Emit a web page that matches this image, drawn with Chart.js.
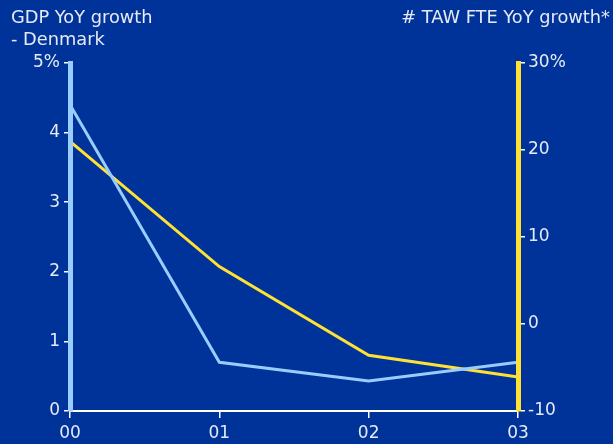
<!DOCTYPE html>
<html>
<head>
<meta charset="utf-8">
<script src="https://cdn.jsdelivr.net/npm/chart.js@4.4.1/dist/chart.umd.min.js"></script>
<style>
  html, body { margin: 0; padding: 0; background: #003399; }
  #wrap { width: 613px; height: 444px; position: relative; }
</style>
</head>
<body>
<div id="wrap"><canvas id="c"></canvas></div>
<script>
// data
const years = ["00", "01", "02", "03"];
const gdpGrowth = [4.4, 0.7, 0.43, 0.7];       // left axis, %
const tawGrowth = [21.0, 6.6, -3.6, -6.1];     // right axis, %
const leftTicks = [0, 1, 2, 3, 4, 5];
const rightTicks = [-10, 0, 10, 20, 30];

const COLORS = {
  bg: "#003399",
  gdp: "#99ccff",
  taw: "#ffe135",
  text: "#e6eaf4",
  axis: "#ffffff",
};

const FONT = { family: "'DejaVu Sans', sans-serif", size: 17 };

const titles = {
  id: "titles",
  afterDraw(chart) {
    const ctx = chart.ctx;
    ctx.save();
    ctx.fillStyle = COLORS.text;
    ctx.font = "17.8px 'DejaVu Sans', sans-serif";
    ctx.textBaseline = "alphabetic";
    ctx.textAlign = "left";
    ctx.fillText("GDP YoY growth", 11, 23);
    ctx.fillText("- Denmark", 11, 45);
    ctx.textAlign = "right";
    ctx.fillText("# TAW FTE YoY growth*", 610, 23);
    ctx.restore();
  },
};

new Chart(document.getElementById("c"), {
  type: "line",
  data: {
    labels: years,
    datasets: [
      {
        label: "GDP YoY growth - Denmark",
        data: gdpGrowth,
        yAxisID: "y",
        borderColor: COLORS.gdp,
        borderWidth: 3,
        pointRadius: 0,
        tension: 0,
      },
      {
        label: "# TAW FTE YoY growth*",
        data: tawGrowth,
        yAxisID: "y1",
        borderColor: COLORS.taw,
        borderWidth: 3,
        pointRadius: 0,
        tension: 0,
      },
    ],
  },
  options: {
    responsive: true,
    maintainAspectRatio: false,
    animation: false,
    layout: { padding: { top: 63, left: 0, right: 0, bottom: 0 } },
    plugins: { legend: { display: false }, tooltip: { enabled: false } },
    scales: {
      x: {
        offset: false,
        grid: { drawOnChartArea: false, drawTicks: true, tickLength: 7, color: COLORS.axis, lineWidth: 1.5 },
        border: { color: COLORS.axis, width: 2, z: 1 },
        ticks: { color: COLORS.text, font: FONT, padding: 5, maxRotation: 0 },
        afterFit: (s) => { s.height = 33; },
      },
      y: {
        position: "left",
        min: 0,
        max: 5,
        afterBuildTicks: (s) => { s.ticks = leftTicks.map((v) => ({ value: v })); },
        grid: { drawOnChartArea: false, drawTicks: true, tickLength: 6, color: COLORS.axis, lineWidth: 1.5 },
        border: { color: COLORS.gdp, width: 5, z: 1 },
        ticks: {
          color: COLORS.text,
          font: FONT,
          padding: 4,
          callback: (v) => (v === 5 ? "5%" : v),
        },
        afterFit: (s) => { s.width = 70; },
      },
      y1: {
        position: "right",
        min: -10,
        max: 30,
        afterBuildTicks: (s) => { s.ticks = rightTicks.map((v) => ({ value: v })); },
        grid: { drawOnChartArea: false, drawTicks: true, tickLength: 7, color: COLORS.axis, lineWidth: 1.5 },
        border: { color: COLORS.taw, width: 5, z: 1 },
        ticks: {
          color: COLORS.text,
          font: FONT,
          padding: 3,
          callback: (v) => (v === 30 ? "30%" : v),
        },
        afterFit: (s) => { s.width = 95; },
      },
    },
  },
  plugins: [titles],
});
</script>
</body>
</html>
